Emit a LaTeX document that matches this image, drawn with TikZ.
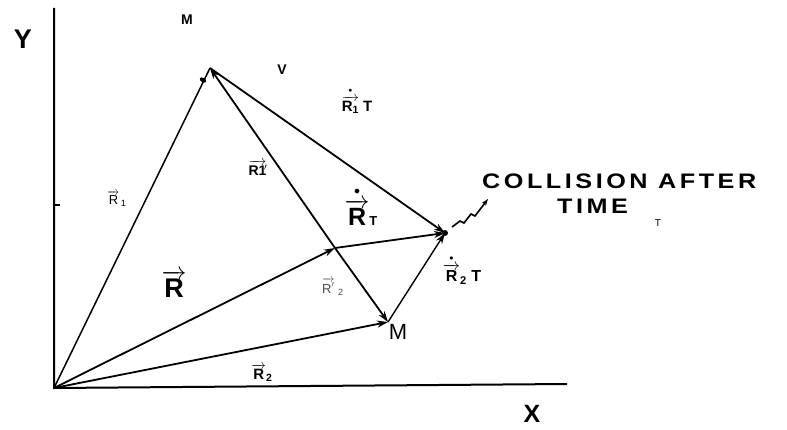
\documentclass[tikz,border=0pt]{standalone}
\usepackage{amsmath}
\usepackage{fontspec}
\setmainfont{Liberation Sans}
\usetikzlibrary{arrows.meta}
\newcommand{\fs}[1]{\fontsize{#1}{#1}\selectfont}
\newcommand{\vdot}{\scriptscriptstyle\bullet}
\begin{document}
\begin{tikzpicture}[x=1pt,y=-1pt,
  vecl/.style={line width=1.8pt,-{Stealth[length=11pt,width=7pt]}},
  axisl/.style={line width=2pt},
  plainl/.style={line width=1.5pt},
  lbl/.style={inner sep=0pt}
]
\useasboundingbox (0,0) rectangle (787,430);
% points
\coordinate (O) at (54,388);
\coordinate (ytop) at (54,8);
\coordinate (xend) at (567,384);
\coordinate (tick) at (60,205);
\coordinate (tickb) at (54,205);
\coordinate (P1) at (210,68);
\coordinate (P2) at (388,322);
\coordinate (Q) at (335,248);
\coordinate (C) at (445,233);
\coordinate (W) at (488,199);
% axes
\draw[axisl] (ytop) -- (O) -- (xend);
\draw[line width=1.2pt] (tickb) -- (tick);
% vectors
\draw[plainl] (O) -- (P1);
\fill[rotate around={-30:(203,80)}] (203,80) ellipse (3.5pt and 2.2pt);
\draw[vecl] (O) -- (Q);
\draw[vecl] (O) -- (P2);
\draw[vecl] (Q) -- (P1);
\draw[vecl] (Q) -- (P2);
\draw[vecl] (P1) -- (C);
\draw[vecl] (Q) -- (C);
\draw[vecl,line width=1.4pt] (P2) -- (C);
\fill (C) circle (3pt);
% wiggle
\draw[line width=1.6pt,-{Stealth[length=7pt,width=5pt]}] (452,227) -- (460,221) -- (464,223) -- (471,214) -- (475,216) -- (W);
% labels
\node[lbl,font=\bfseries\fs{27}] (ylab) at (23,39) {Y};
\node[lbl,font=\bfseries\fs{25}] (xlab) at (532,414) {X};
\node[lbl,font=\bfseries\fs{14}] (m1) at (187,20) {M};
\node[lbl,font=\bfseries\fs{14}] (vlab) at (282,70) {V};
\node[lbl,font=\fs{22}] (m2) at (398,332) {M};
\node[lbl,font=\bfseries\fs{27}] (rlab) at (174,284) {$\overrightarrow{\text{R}}$};
\node[lbl,font=\fs{13}] (r1lab) at (117,199) {$\overrightarrow{\text{R}}_{\,\text{1}}$};
\node[lbl,font=\bfseries\fs{14}] (r1p) at (258,168) {$\overrightarrow{\text{R}\text{1}}\!'$};
\node[lbl,font=\bfseries\fs{15}] (r1t) at (357,101) {$\overset{\vdot}{\overrightarrow{\text{R}_{\text{1}}}}\ \text{T}$};
\node[lbl] (rt) at (361,206) {{\bfseries\fs{25}$\overset{\vdot}{\overrightarrow{\text{R}}}$}\raisebox{0pt}{\bfseries\fs{13}T}};
\node[lbl,font=\fs{13},text=black!70] (r2p) at (333,287) {$\overrightarrow{\text{R}'}_{\ \text{2}}$};
\node[lbl,font=\bfseries\fs{16}] (r2t) at (462,270) {$\overset{\vdot}{\overrightarrow{\text{R}}}_{\text{2}}\ \text{T}$};
\node[lbl,font=\bfseries\fs{15}] (r2) at (262,373) {$\overrightarrow{\text{R}}_{\text{2}}$};
\node[lbl,font=\bfseries\fs{21},anchor=west] (coll) at (482,181) {\scalebox{1.2}[1]{\addfontfeature{LetterSpace=14}COLLISION AFTER}};
\node[lbl,font=\bfseries\fs{21},anchor=west] (time) at (557,206) {\scalebox{1.2}[1]{\addfontfeature{LetterSpace=14}TIME}};
\node[lbl,font=\fs{10}] (tsmall) at (658,223) {T};
\end{tikzpicture}
\end{document}
